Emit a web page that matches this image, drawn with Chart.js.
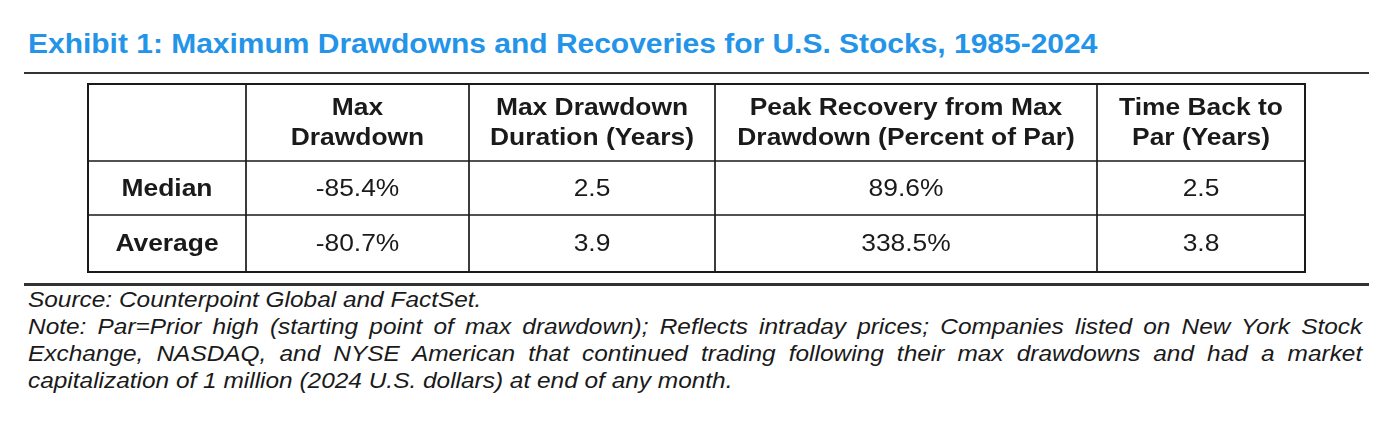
<!DOCTYPE html>
<html lang="en">
  <head>
    <meta charset="UTF-8" />
    <title>Exhibit 1: Maximum Drawdowns and Recoveries for U.S. Stocks, 1985-2024</title>
    <script src="https://cdn.jsdelivr.net/npm/chart.js@4.4.1/dist/chart.umd.min.js"></script>
    <style>
      html, body { margin: 0; padding: 0; background: #fff; }
      body {
        width: 1392px; height: 436px; position: relative; overflow: hidden;
        font-family: "Liberation Sans", Arial, sans-serif; color: #1a1a1a;
      }
      #title {
        position: absolute; left: 28px; top: 29px; white-space: nowrap;
        font-weight: bold; font-size: 27px; line-height: 30px; color: #2394e8;
        transform: scaleX(1.11); transform-origin: left top;
      }
      .rule { position: absolute; left: 24px; width: 1345px; background: #333; }
      #rule-top { top: 72px; height: 2px; }
      #rule-bottom { top: 283px; height: 3px; }
      #table-wrap { position: absolute; left: 86px; top: 82px; width: 1221px; height: 192px; }
      #notes {
        position: absolute; left: 28px; top: 286px; width: 1202px;
        font-style: italic; font-size: 22px; line-height: 27px; white-space: nowrap;
        transform: scaleX(1.11); transform-origin: left top;
      }
      .just { text-align: justify; text-align-last: justify; white-space: normal; }
    </style>
  </head>

  <body>
    <div id="title">Exhibit 1: Maximum Drawdowns and Recoveries for U.S. Stocks, 1985-2024</div>
    <div class="rule" id="rule-top"></div>
    <div id="table-wrap"><canvas id="tableChart" width="1221" height="192"></canvas></div>
    <div class="rule" id="rule-bottom"></div>
    <div id="notes">
      <div>Source: Counterpoint Global and FactSet.</div>
      <div class="just">Note: Par=Prior high (starting point of max drawdown); Reflects intraday prices; Companies listed on New York Stock</div>
      <div class="just">Exchange, NASDAQ, and NYSE American that continued trading following their max drawdowns and had a market</div>
      <div>capitalization of 1 million (2024 U.S. dollars) at end of any month.</div>
    </div>

    <script>
      // ---- data ----
      const HEADERS = [
        [],
        ["Max", "Drawdown"],
        ["Max Drawdown", "Duration (Years)"],
        ["Peak Recovery from Max", "Drawdown (Percent of Par)"],
        ["Time Back to", "Par (Years)"],
      ];
      const ROWS = ["Median", "Average"];
      const MAX_DRAWDOWN = [-85.4, -80.7];     // percent
      const DRAWDOWN_YEARS = [2.5, 3.9];
      const PEAK_RECOVERY = [89.6, 338.5];     // percent of par
      const BACK_TO_PAR_YEARS = [2.5, 3.8];

      // ---- layout ----
      const COL_W = [158, 223, 246, 382, 208];
      const ROW_H = [77, 54, 57];
      const STRETCH = 1.1;
      const FONT = '"Liberation Sans", Arial, sans-serif';

      const edges = (arr) => arr.reduce((acc, w) => (acc.push(acc[acc.length - 1] + w), acc), [0]);
      const xEdges = edges(COL_W);
      const yEdges = edges(ROW_H);
      const mid = (e, i) => (e[i] + e[i + 1]) / 2;

      const pct = (v) => v.toFixed(1) + "%";
      const yrs = (v) => v.toFixed(1);

      // one point per cell, at the cell centre
      const cells = [];
      HEADERS.forEach((lines, c) => {
        if (lines.length) cells.push({ x: mid(xEdges, c), y: mid(yEdges, 0), lines, bold: true });
      });
      ROWS.forEach((name, r) => {
        const texts = [name, pct(MAX_DRAWDOWN[r]), yrs(DRAWDOWN_YEARS[r]), pct(PEAK_RECOVERY[r]), yrs(BACK_TO_PAR_YEARS[r])];
        texts.forEach((t, c) => {
          cells.push({ x: mid(xEdges, c), y: mid(yEdges, r + 1), lines: [t], bold: c === 0 });
        });
      });

      const gridPlugin = {
        id: "grid",
        beforeDatasetsDraw(chart) {
          const { ctx, scales: { x, y } } = chart;
          const left = x.getPixelForValue(0), right = x.getPixelForValue(xEdges[xEdges.length - 1]);
          const top = y.getPixelForValue(0), bottom = y.getPixelForValue(yEdges[yEdges.length - 1]);
          ctx.save();
          ctx.strokeStyle = "#1a1a1a";
          ctx.lineWidth = 1.7;
          ctx.beginPath();
          xEdges.slice(1, -1).forEach((v) => {
            const px = x.getPixelForValue(v);
            ctx.moveTo(px, top); ctx.lineTo(px, bottom);
          });
          yEdges.slice(1, -1).forEach((v) => {
            const py = y.getPixelForValue(v);
            ctx.moveTo(left, py); ctx.lineTo(right, py);
          });
          ctx.stroke();
          ctx.lineWidth = 2;
          ctx.strokeRect(left, top, right - left, bottom - top);
          ctx.restore();
        },
      };

      const cellTextPlugin = {
        id: "cellText",
        afterDatasetsDraw(chart) {
          const { ctx } = chart;
          const ds = chart.data.datasets[0];
          chart.getDatasetMeta(0).data.forEach((el, i) => {
            const cell = ds.data[i];
            ctx.save();
            ctx.fillStyle = "#1a1a1a";
            ctx.font = (cell.bold ? "bold " : "") + "24px " + FONT;
            ctx.textAlign = "center";
            ctx.textBaseline = "middle";
            const gap = 30;
            const y0 = el.y - ((cell.lines.length - 1) * gap) / 2;
            cell.lines.forEach((t, k) => {
              ctx.save();
              ctx.translate(el.x, y0 + k * gap + 1);
              ctx.scale(STRETCH, 1);
              ctx.fillText(t, 0, 0);
              ctx.restore();
            });
            ctx.restore();
          });
        },
      };

      new Chart(document.getElementById("tableChart"), {
        type: "scatter",
        data: { datasets: [{ data: cells, pointRadius: 0, pointHoverRadius: 0 }] },
        plugins: [gridPlugin, cellTextPlugin],
        options: {
          responsive: false,
          animation: false,
          events: [],
          layout: { padding: 2 },
          scales: {
            x: { type: "linear", display: false, min: 0, max: xEdges[xEdges.length - 1] },
            y: { type: "linear", display: false, min: 0, max: yEdges[yEdges.length - 1], reverse: true },
          },
          plugins: { legend: { display: false }, tooltip: { enabled: false } },
        },
      });
    </script>
  </body>
</html>
